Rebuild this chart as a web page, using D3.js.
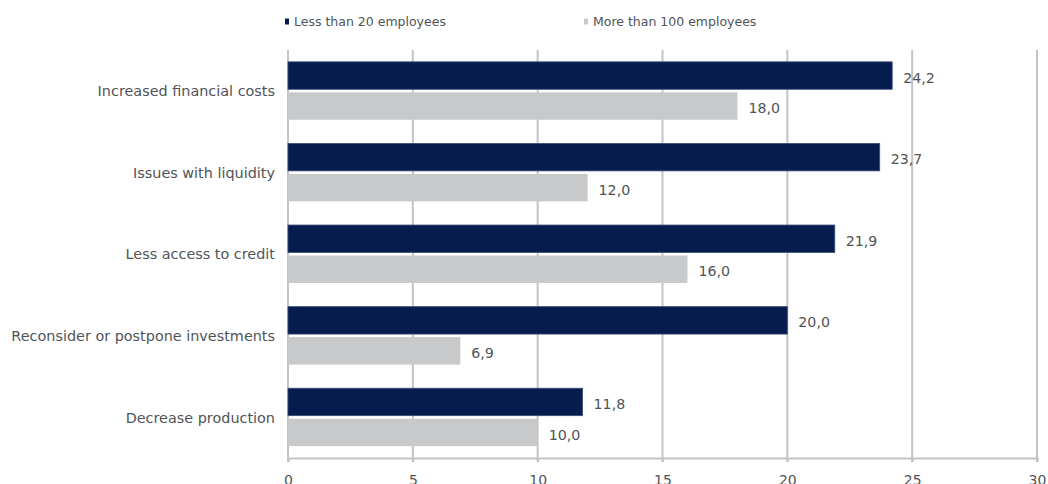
<!DOCTYPE html>
<html>
<head>
<meta charset="utf-8">
<script src="https://cdn.jsdelivr.net/npm/d3@7/dist/d3.min.js"></script>
<style>
  body { margin: 0; background: #fff; }
  svg text { font-family: "DejaVu Sans", Verdana, sans-serif; fill: #505458; }
</style>
</head>
<body>
<svg id="chart" width="1048" height="484"></svg>
<script>
const categories = [
  "Increased financial costs",
  "Issues with liquidity",
  "Less access to credit",
  "Reconsider or postpone investments",
  "Decrease production"
];
const seriesNames = ["Less than 20 employees", "More than 100 employees"];
const small = [24.2, 23.7, 21.9, 20.0, 11.8];
const large = [18.0, 12.0, 16.0, 6.9, 10.0];
const ticks = [0, 5, 10, 15, 20, 25, 30];

const colors = ["#061c4e", "#c8c9cb"];
const fmt = v => d3.format(".1f")(v).replace(".", ",");

const svg = d3.select("#chart");
const mLeft = 288, mRight = 1037, mTop = 50, mBottom = 458;

const x = d3.scaleLinear().domain([0, 30]).range([mLeft, mRight]);
const y = d3.scaleBand().domain(categories).range([mTop, mBottom]).paddingInner(0.29).paddingOuter(0.145);

// vertical gridlines
svg.append("g").selectAll("line")
  .data(ticks)
  .enter().append("line")
  .attr("x1", d => x(d)).attr("x2", d => x(d))
  .attr("y1", mTop).attr("y2", mBottom + 4)
  .attr("stroke", "#c4c4c4").attr("stroke-width", 2);

// bottom axis
const xAxis = svg.append("g")
  .attr("transform", "translate(0," + mBottom + ")")
  .call(d3.axisBottom(x).tickValues(ticks).tickSize(4).tickPadding(13));
xAxis.select(".domain").attr("stroke", "#c4c4c4").attr("stroke-width", 2);
xAxis.selectAll(".tick line").attr("stroke", "#c4c4c4").attr("stroke-width", 2);
xAxis.selectAll("text").attr("font-size", 14).style("fill", "#505458")
  .style("font-family", "'DejaVu Sans', Verdana, sans-serif");

// category labels
svg.append("g").selectAll("text")
  .data(categories)
  .enter().append("text")
  .attr("x", mLeft - 13)
  .attr("y", d => y(d) + y.bandwidth() / 2)
  .attr("dy", "0.38em")
  .attr("text-anchor", "end")
  .attr("font-size", 14.4)
  .text(d => d);

const sub = d3.scaleBand().domain([0, 1]).range([0, y.bandwidth()]).paddingInner(0.1);

const series = [small, large];
series.forEach((vals, i) => {
  const g = svg.append("g");
  g.selectAll("rect")
    .data(vals)
    .enter().append("rect")
    .attr("x", x(0))
    .attr("y", (d, j) => y(categories[j]) + sub(i))
    .attr("width", d => x(d) - x(0))
    .attr("height", sub.bandwidth())
    .attr("fill", colors[i])
    .attr("stroke", i === 0 ? "#3a4f7a" : "none")
    .attr("stroke-width", 0.8);
  g.selectAll("text")
    .data(vals)
    .enter().append("text")
    .attr("x", d => x(d) + 11)
    .attr("y", (d, j) => y(categories[j]) + sub(i) + sub.bandwidth() / 2)
    .attr("dy", "0.5em")
    .attr("font-size", 14.2)
    .text(d => fmt(d));
});

// legend
const legendX = [285, 584];
const legend = svg.append("g").selectAll("g")
  .data(seriesNames)
  .enter().append("g")
  .attr("transform", (d, i) => "translate(" + legendX[i] + ",16)");
legend.append("rect")
  .attr("width", 4).attr("height", 6).attr("y", 2.5)
  .attr("fill", (d, i) => colors[i]);
legend.append("text")
  .attr("x", 9).attr("y", 5.5).attr("dy", "0.35em")
  .attr("font-size", 12.5)
  .text(d => d);
</script>
</body>
</html>
